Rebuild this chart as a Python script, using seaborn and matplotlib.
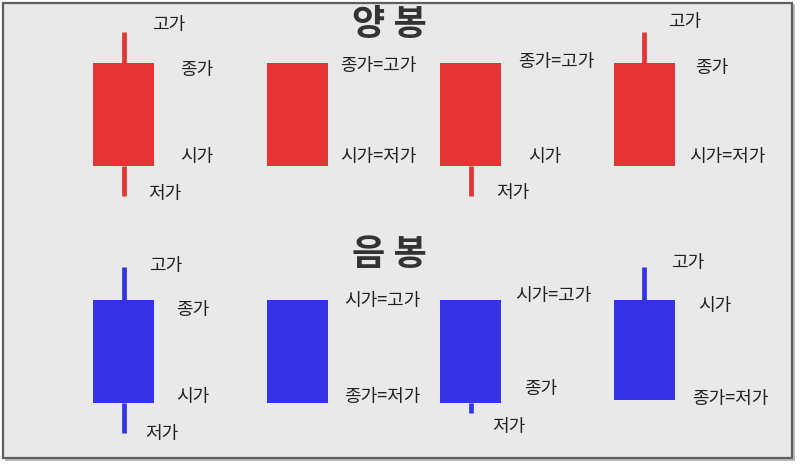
import matplotlib
matplotlib.use("Agg")
import matplotlib.pyplot as plt
from matplotlib.patches import Rectangle
import pandas as pd
import seaborn as sns

# candle data (abstract price units)
candles = ["c1", "c2", "c3", "c4"]

up_open = [10, 10, 10, 10]
up_close = [20, 20, 20, 20]
up_high = [23, 20, 20, 23]
up_low = [7.1, 10, 7.1, 10]

down_open = [20, 20, 20, 20]
down_close = [10, 10, 10, 10.3]
down_high = [23.2, 20, 20, 23.2]
down_low = [7.1, 10, 9.0, 10.3]

up_title = "양 봉"
down_title = "음 봉"

# (candle index, text, anchor field, dx px, dy px)
up_labels = [
    (0, "고가", "high", 28, 7), (0, "종가", "close", 56, -7),
    (0, "시가", "open", 56, 9), (0, "저가", "low", 24, 2),
    (1, "종가=고가", "close", 43, -3), (1, "시가=저가", "open", 43, 9),
    (2, "종가=고가", "close", 47, 1), (2, "시가", "open", 57, 9),
    (2, "저가", "low", 26, 3),
    (3, "고가", "high", 24, 10), (3, "종가", "close", 51, -5),
    (3, "시가=저가", "open", 45, 9),
]
down_labels = [
    (0, "고가", "high", 25, 1), (0, "종가", "open", 52, -10),
    (0, "시가", "close", 52, 6), (0, "저가", "low", 21, -1),
    (1, "시가=고가", "open", 47, -1), (1, "종가=저가", "close", 47, 6),
    (2, "시가=고가", "open", 44, 4), (2, "종가", "close", 53, 14),
    (2, "저가", "low", 22, -14),
    (3, "고가", "high", 27, 4), (3, "시가", "open", 54, -6),
    (3, "종가=저가", "close", 48, 1),
]

RED = "#e63434"
BLUE = "#3434e6"
TXT = "#222222"

sns.set_theme(style="white")
plt.rcParams["font.family"] = ["Noto Sans CJK KR", "DejaVu Sans"]

W, H = 800, 468
fig = plt.figure(figsize=(W / 100, H / 100), dpi=100)
fig.patch.set_facecolor("white")

# framed grey panel with a small shadow
fig.patches.append(Rectangle((5 / W, 1 - 461 / H), 790 / W, 457 / H,
                             transform=fig.transFigure, facecolor="#bdbdbd",
                             edgecolor="none", zorder=-2))
fig.patches.append(Rectangle((3 / W, 1 - 458 / H), 789 / W, 455 / H,
                             transform=fig.transFigure, facecolor="#e9e9e9",
                             edgecolor="#5e5e5e", linewidth=1.6, zorder=-1))


def draw_row(px_top, px_bot, body_top_px, o, c, hi, lo, color, labels, title, title_px):
    df = pd.DataFrame({"candle": candles, "open": o, "close": c, "high": hi, "low": lo})
    df["base"] = df[["open", "close"]].min(axis=1)
    df["top"] = df[["open", "close"]].max(axis=1)
    df["body"] = df["top"] - df["base"]

    ax = fig.add_axes([20 / W, 1 - px_bot / H, 760 / W, (px_bot - px_top) / H])
    ax.set_facecolor("none")

    # wicks only where they stick out of the body
    upper = df[df["high"] > df["top"]]
    lower = df[df["low"] < df["base"]]
    ax.vlines(upper.index, upper["top"], upper["high"], color=color,
              linewidth=3.4, capstyle="butt", zorder=1)
    ax.vlines(lower.index, lower["low"], lower["base"], color=color,
              linewidth=3.4, capstyle="butt", zorder=1)
    sns.barplot(data=df, x="candle", y="body", bottom=df["base"], color=color,
                saturation=1, width=0.352, errorbar=None, linewidth=0, ax=ax, zorder=2)

    # scale: 10 price units = 103 px, candle spacing = 173.5 px
    ppu = 10.3
    ax.set_ylim(10 - (px_bot - (body_top_px + 103)) / ppu, 20 + (body_top_px - px_top) / ppu)
    ax.set_xlim(-(124 - 20) / 173.5, 3 + (780 - 644) / 173.5)
    ax.axis("off")

    for i, text, field, dx, dy in labels:
        ax.annotate(text, xy=(i, df.loc[i, field]), xytext=(dx, dy),
                    textcoords="offset pixels", ha="left", va="center",
                    fontsize=13, color=TXT)

    fig.text(389 / W, 1 - title_px / H, title, ha="center", va="center",
             fontsize=26, fontweight="bold", color="#333333")


draw_row(10, 225, 63, up_open, up_close, up_high, up_low, RED, up_labels, up_title, 25)
draw_row(240, 455, 300, down_open, down_close, down_high, down_low, BLUE, down_labels, down_title, 254)

fig.savefig("out.png", dpi=100, facecolor=fig.get_facecolor())
